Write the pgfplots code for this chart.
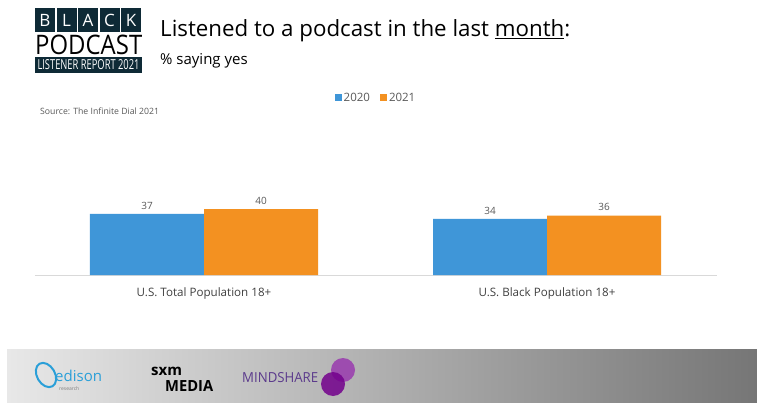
\documentclass[border=0pt]{standalone}
\usepackage{pgfplots}
\pgfplotsset{compat=1.18}
\usepackage{fontspec}
\setmainfont{Open Sans}
\definecolor{cblue}{HTML}{3F96D8}
\definecolor{corange}{HTML}{F39121}
\definecolor{lblgray}{HTML}{595959}
\definecolor{catgray}{HTML}{404040}
\definecolor{footL}{HTML}{E8E8E8}
\definecolor{footR}{HTML}{767676}
\definecolor{teal}{HTML}{0E2A36}
\definecolor{edblue}{HTML}{2A9FD8}
\definecolor{mpurple}{HTML}{5B3A8C}
\begin{document}
\begin{tikzpicture}
\fill[white] (0pt,0pt) rectangle (757pt,-403pt);
% logo
\foreach \i/\L in {0/B,1/L,2/A,3/C,4/K}{
  \pgfmathsetmacro\xa{35+\i*21.5}
  \pgfmathsetmacro\xb{35+\i*21.5+20}
  \pgfmathsetmacro\xc{35+\i*21.5+10}
  \fill[teal] (\xa pt,-8pt) rectangle (\xb pt,-32pt);
  \node[text=white,font=\fontsize{17}{17}\selectfont] at (\xc pt,-20pt) {\L};
}
\node[inner sep=0pt,anchor=north west] at (35pt,-34.5pt) {\resizebox{107pt}{19.5pt}{PODCAST}};
\fill[teal] (35pt,-57pt) rectangle (142pt,-73pt);
\node[inner sep=0pt,text=white] at (88.5pt,-65pt) {\resizebox{102pt}{10pt}{LISTENER REPORT 2021}};
% titles
\node[anchor=base west,inner sep=0pt,font=\fontsize{22.3}{24}\selectfont,text=black] at (160pt,-37pt) {Listened to a podcast in the last \underline{month}:};
\node[anchor=base west,inner sep=0pt,font=\fontsize{15}{17}\selectfont,text=black] at (160pt,-65pt) {\% saying yes};
\node[anchor=west,inner sep=0pt,font=\fontsize{8.7}{10}\selectfont,text=lblgray] at (40pt,-111pt) {Source: The Infinite Dial 2021};
% footer
\shade[left color=footL,right color=footR] (7pt,-349pt) rectangle (757pt,-403pt);
\draw[edblue,line width=2pt,rotate around={30:(46pt,-375pt)}] (46pt,-375pt) ellipse (9pt and 13pt);
\node[anchor=west,inner sep=0pt,font=\fontsize{15}{15}\selectfont,text=edblue] at (55pt,-376pt) {edison};
\node[anchor=west,inner sep=0pt,font=\fontsize{5}{5}\selectfont,text=gray] at (59pt,-389pt) {research};
\node[anchor=west,inner sep=0pt,font=\fontsize{15}{15}\selectfont\bfseries] at (151pt,-371pt) {sxm};
\node[anchor=west,inner sep=0pt,font=\fontsize{11}{11}\selectfont\bfseries] at (165pt,-386pt) {\resizebox{48pt}{11pt}{MEDIA}};
\node[anchor=west,inner sep=0pt,font=\fontsize{11}{11}\selectfont,text=mpurple] at (242pt,-378pt) {\resizebox{76pt}{10pt}{MINDSHARE}};
\fill[blue!40!purple!70] (343pt,-370pt) circle (12pt);
\fill[purple!60!blue,opacity=0.85] (333pt,-384pt) circle (12pt);
% chart
\begin{axis}[
  at={(35pt,-275pt)}, anchor=south west,
  scale only axis, width=682pt, height=165pt,
  xmin=-0.4927, xmax=1.4956, ymin=0, ymax=100,
  ybar=0pt, bar width=114pt,
  axis y line=none, axis x line*=bottom,
  x axis line style={draw=black!15,line width=0.8pt},
  xtick={0,1}, xticklabels={U.S. Total Population 18+,U.S. Black Population 18+},
  major tick length=0pt,
  xticklabel style={font=\fontsize{11.6}{13}\selectfont,text=catgray,yshift=-9pt},
  /pgf/number format/assume math mode=true,
  nodes near coords,
  nodes near coords style={font=\fontsize{10}{11}\selectfont,text=lblgray,yshift=1pt},
  legend columns=2,
  legend style={draw=none,fill=none,at={(0.5,1.075)},anchor=center,
    font=\fontsize{11.5}{13}\selectfont,text=lblgray,
    /tikz/every even column/.append style={column sep=8pt}},
  legend image code/.code={\fill[#1] (0pt,-3.5pt) rectangle (7pt,3.5pt);},
  clip=false,
]
\addplot[fill=cblue,draw=none] coordinates {(0,37) (1,34)};
\addplot[fill=corange,draw=none] coordinates {(0,40) (1,36)};
\legend{2020,2021}
\end{axis}
\end{tikzpicture}
\end{document}
